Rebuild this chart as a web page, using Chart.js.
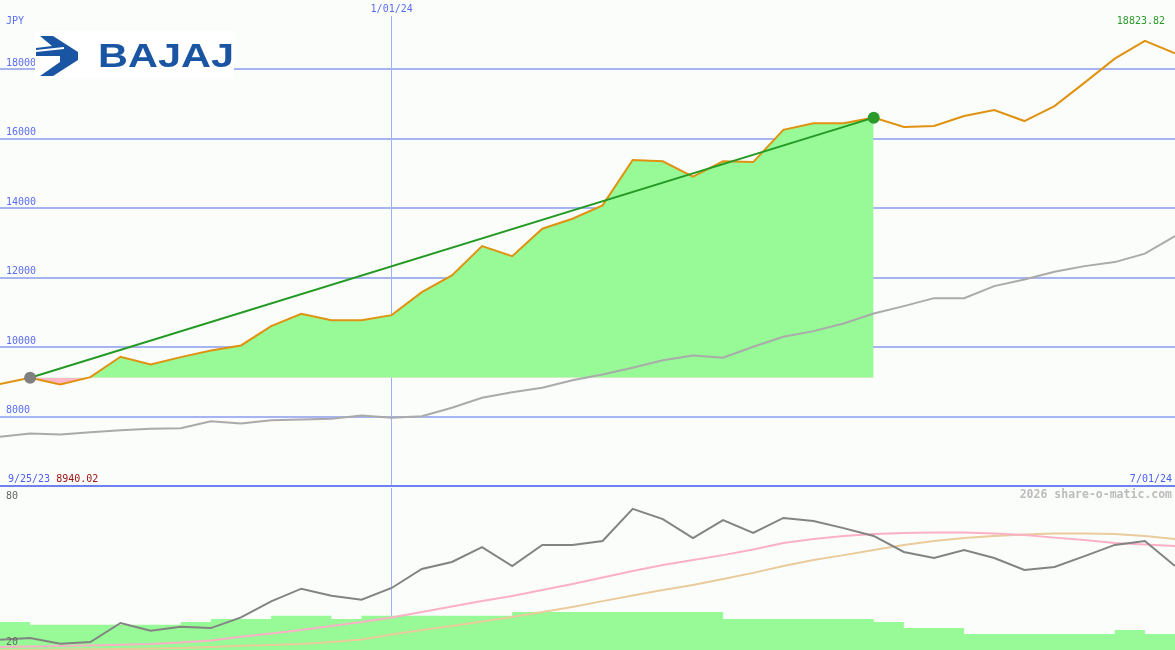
<!DOCTYPE html>
<html><head><meta charset="utf-8">
<script src="https://cdn.jsdelivr.net/npm/chart.js@4.4.1/dist/chart.umd.min.js"></script>
<style>
html,body{margin:0;padding:0;background:#fbfdfb;width:1175px;height:650px;overflow:hidden}
#top{position:absolute;left:0;top:0;width:1175px;height:488px}
#bot{position:absolute;left:0;top:488px;width:1175px;height:162px}
</style></head><body>
<div id="top"><canvas id="c1"></canvas></div>
<div id="bot"><canvas id="c2"></canvas></div>
<script>
// ---- data ----
const weeks = ["9/29/23","10/6/23","10/13/23","10/20/23","10/27/23","11/3/23","11/10/23","11/17/23","11/24/23","12/1/23",
 "12/8/23","12/15/23","12/22/23","12/29/23","1/5/24","1/12/24","1/19/24","1/26/24","2/2/24","2/9/24",
 "2/16/24","2/23/24","3/1/24","3/8/24","3/15/24","3/22/24","3/29/24","4/5/24","4/12/24","4/19/24",
 "4/26/24","5/3/24","5/10/24","5/17/24","5/24/24","5/31/24","6/7/24","6/14/24","6/21/24","6/28/24"];
const price = [8940.02,9118,8925,9135,9723,9501,9712,9905,10049,10605,
 10963,10778,10778,10922,11585,12066,12911,12622,13412,13700,
 14084,15389,15352,14911,15352,15331,16259,16447,16447,16611,
 16340,16369,16657,16830,16513,16945,17620,18311,18823.82,18464];
const benchmark = [7418,7513,7484,7550,7608,7648,7666,7867,7801,7896,
 7916,7937,8032,7965,8012,8254,8542,8703,8830,9049,
 9213,9406,9625,9761,9695,10012,10300,10461,10683,10971,
 11182,11412,11412,11758,11951,12173,12334,12450,12692,13199];
const oscillator = [20.9,21.6,19.3,20.0,27.8,24.6,26.3,25.7,30.1,36.7,
 41.9,39.0,37.4,42.2,50.0,52.9,59.0,51.2,59.9,59.9,
 61.5,74.7,70.5,62.7,70.1,64.8,71.0,69.7,66.8,63.6,
 57.0,54.5,57.8,54.5,49.6,50.8,55.3,59.9,61.5,51.2];
const oscAvgFast = [17.9,18.1,18.3,18.6,18.9,19.2,19.8,20.6,22.1,23.5,
 24.9,26.6,28.2,30.1,32.3,34.6,36.8,38.9,41.4,43.8,
 46.5,49.2,51.6,53.7,55.7,58.0,60.7,62.3,63.6,64.4,
 64.8,65.0,65.0,64.6,64.0,62.9,61.9,60.7,60.1,59.5];
const oscAvgSlow = [16.7,16.8,16.9,17.0,17.1,17.3,17.5,17.9,18.4,18.8,
 19.2,20.0,21.0,23.1,24.9,26.6,28.4,30.3,32.3,34.4,
 36.8,39.1,41.4,43.4,45.9,48.4,51.2,53.7,55.7,57.8,
 59.9,61.5,62.7,63.6,64.2,64.6,64.6,64.4,63.6,62.3];
const volume = [28.2,27.1,27.1,27.1,27.1,27.1,28.2,29.4,29.4,30.8,
 30.8,29.4,30.8,30.8,30.8,30.8,30.8,32.3,32.3,32.3,
 32.3,32.3,32.3,32.3,29.4,29.4,29.4,29.4,29.4,28.2,
 25.7,25.7,23.3,23.3,23.3,23.3,23.3,24.9,23.3,23.3];
const priceGrid = [6000,8000,10000,12000,14000,16000,18000];
const priceTickLabels = [8000,10000,12000,14000,16000,18000];
const oscTickLabels = [80,20];
const trendStart = 1, trendEnd = 29;
const newYearIndex = 13, newYearLabel = "1/01/24";
const currency = "JPY";
const startDate = "9/25/23", startValue = "8940.02";
const endDate = "7/01/24", maxLabel = "18823.82";
const credit = "2026 share-o-matic.com";

const BG = '#fbfdfb';
const MONO = '"DejaVu Sans Mono", monospace';

const xScale = {
  type:'category', offset:false,
  ticks:{display:false, autoSkip:false},
  grid:{color: c => c.index === newYearIndex ? '#9fb0f8' : 'rgba(0,0,0,0)', lineWidth:1, drawTicks:false},
  border:{display:false}
};

const topText = {
  id:'topText',
  afterDraw(chart){
    const {ctx, scales:{x,y}} = chart;
    ctx.save();
    ctx.font = '10px ' + MONO;
    ctx.textBaseline = 'middle';
    ctx.textAlign = 'left';
    ctx.fillStyle = '#5a6cf0';
    priceTickLabels.forEach(v => ctx.fillText(String(v), 6, y.getPixelForValue(v) - 6));
    ctx.fillText(currency, 6, 21);
    const xn = x.getPixelForValue(newYearIndex);
    ctx.fillStyle = BG; ctx.fillRect(xn - 24, 0, 48, 16);
    ctx.fillStyle = '#5a6cf0'; ctx.textAlign = 'center';
    ctx.fillText(newYearLabel, xn, 9);
    ctx.textAlign = 'right'; ctx.fillStyle = '#2a9a2a';
    ctx.fillText(maxLabel, 1165, 21);
    ctx.textAlign = 'left'; ctx.fillStyle = '#4a5ef0';
    ctx.fillText(startDate, 8, 479);
    const w = ctx.measureText(startDate + ' ').width;
    ctx.fillStyle = '#a01414';
    ctx.fillText(startValue, 8 + w, 479);
    ctx.textAlign = 'right'; ctx.fillStyle = '#4a5ef0';
    ctx.fillText(endDate, 1172, 479);
    // logo
    ctx.fillStyle = '#ffffff';
    ctx.fillRect(35, 31, 199, 47);
    ctx.fillStyle = '#1a55a3';
    ctx.beginPath();
    ctx.moveTo(40,36); ctx.lineTo(53,36); ctx.lineTo(78,52); ctx.lineTo(78,60);
    ctx.lineTo(53,76); ctx.lineTo(40,76); ctx.lineTo(60,62); ctx.lineTo(60,56);
    ctx.lineTo(36,56); ctx.lineTo(36,48); ctx.lineTo(52,46);
    ctx.closePath(); ctx.fill();
    ctx.strokeStyle = '#ffffff'; ctx.lineWidth = 2;
    ctx.beginPath(); ctx.moveTo(36,51); ctx.lineTo(64,48); ctx.stroke();
    ctx.font = 'bold 33px "Liberation Sans", Arial, sans-serif';
    ctx.textAlign = 'left'; ctx.textBaseline = 'alphabetic';
    const bw = ctx.measureText('BAJAJ').width;
    ctx.translate(98, 67); ctx.scale(136 / bw, 1);
    ctx.fillStyle = '#1a55a3';
    ctx.fillText('BAJAJ', 0, 0);
    ctx.restore();
  }
};

new Chart(document.getElementById('c1'), {
  type:'line',
  data:{
    labels: weeks,
    datasets:[
      {label:'markers', data: price.map((v,i)=> (i===trendStart||i===trendEnd)? v : null),
       showLine:false, pointRadius:6, pointHoverRadius:6, pointBorderWidth:0,
       pointBackgroundColor: c => c.dataIndex === trendStart ? '#808080' : '#2a9a2a', order:0},
      {label:'trend', data: price.map((v,i)=> (i===trendStart||i===trendEnd)? v : null), spanGaps:true,
       borderColor:'#249a24', borderWidth:2, pointRadius:0, order:1},
      {label:'price', data: price, borderColor:'#df9210', borderWidth:2, pointRadius:0, order:2},
      {label:'benchmark', data: benchmark, borderColor:'#aaaaaa', borderWidth:2, pointRadius:0, order:3},
      {label:'gain', data: price.map((v,i)=> (i>=trendStart && i<=trendEnd)? v : null),
       borderColor:'rgba(0,0,0,0)', borderWidth:0, pointRadius:0,
       fill:{value: price[trendStart], above:'#97fa97', below:'#ffb6c6'}, order:4}
    ]
  },
  options:{
    responsive:true, maintainAspectRatio:false, animation:false,
    layout:{autoPadding:false, padding:{left:0,right:0,top:0,bottom:2}},
    elements:{line:{tension:0}},
    plugins:{legend:{display:false}, tooltip:{enabled:false}},
    scales:{
      x: xScale,
      y:{min:6000, max:20000,
         afterBuildTicks: s => { s.ticks = priceGrid.map(v => ({value:v})); },
         ticks:{display:false},
         grid:{color: c => (c.tick && c.tick.value === 6000) ? '#6f82f2' : '#a6b4f2', lineWidth:2, drawTicks:false},
         border:{display:false}}
    }
  },
  plugins:[topText]
});

const botText = {
  id:'botText',
  afterDraw(chart){
    const {ctx, scales:{y}} = chart;
    ctx.save();
    ctx.font = '10px ' + MONO;
    ctx.textBaseline = 'middle'; ctx.textAlign = 'left';
    ctx.fillStyle = '#666666';
    oscTickLabels.forEach(v => ctx.fillText(String(v), 6, y.getPixelForValue(v)));
    ctx.font = 'bold 11.5px ' + MONO;
    ctx.textAlign = 'right'; ctx.fillStyle = '#bbbbbb';
    ctx.fillText(credit, 1172, 7);
    ctx.restore();
  }
};

new Chart(document.getElementById('c2'), {
  type:'line',
  data:{
    labels: weeks,
    datasets:[
      {label:'osc', data: oscillator, borderColor:'#838383', borderWidth:2, pointRadius:0, order:0},
      {label:'fast', data: oscAvgFast, borderColor:'#fbb0c6', borderWidth:2, pointRadius:0, order:1},
      {label:'slow', data: oscAvgSlow, borderColor:'#eacb9c', borderWidth:2, pointRadius:0, order:2},
      {label:'volume', data: volume, stepped:'before', borderWidth:0, borderColor:'rgba(0,0,0,0)',
       pointRadius:0, fill:'start', backgroundColor:'#97fa97', order:3}
    ]
  },
  options:{
    responsive:true, maintainAspectRatio:false, animation:false,
    layout:{autoPadding:false, padding:0},
    elements:{line:{tension:0}},
    plugins:{legend:{display:false}, tooltip:{enabled:false}},
    scales:{
      x: xScale,
      y:{min:16.7, max:83.3, display:false}
    }
  },
  plugins:[botText]
});
</script></body></html>
